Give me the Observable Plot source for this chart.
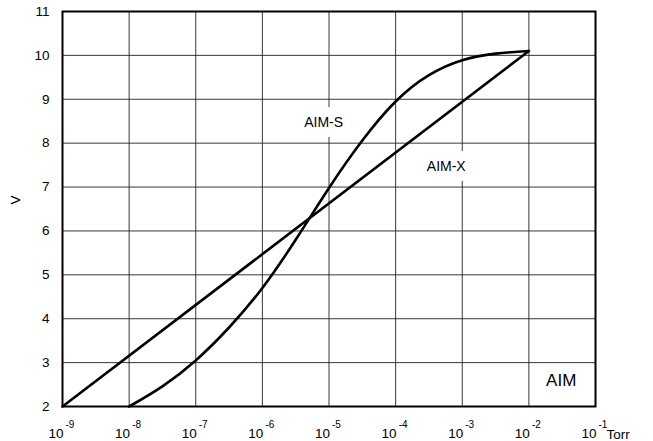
<!DOCTYPE html>
<html>
<head>
<meta charset="utf-8">
<script src="https://cdn.jsdelivr.net/npm/d3@7"></script>
<script src="https://cdn.jsdelivr.net/npm/@observablehq/plot@0.6"></script>
<style>
  html, body { margin: 0; padding: 0; background: #fff; overflow: hidden; }
</style>
</head>
<body>
<div id="chart"></div>
<script>
// Pressure decades (exponents of 10, Torr)
const xExponents = [-9, -8, -7, -6, -5, -4, -3, -2, -1];
const yTicks = [2, 3, 4, 5, 6, 7, 8, 9, 10, 11];

// AIM-S curve: log10(pressure) and output voltage
const aimSLogP = [-8, -7.5, -7, -6.5, -6, -5.5, -5, -4.5, -4, -3.5, -3, -2.5, -2];
const aimSVolt = [2.0, 2.46, 3.05, 3.8, 4.7, 5.8, 6.98, 8.06, 8.95, 9.55, 9.89, 10.04, 10.1];

// AIM-X line
const aimXLogP = [-9, -2];
const aimXVolt = [2.0, 10.1];

const aimS = aimSLogP.map((e, i) => ({p: Math.pow(10, e), v: aimSVolt[i]}));
const aimX = aimXLogP.map((e, i) => ({p: Math.pow(10, e), v: aimXVolt[i]}));
const xTicks = xExponents.map(e => Math.pow(10, e));

const font = "'Liberation Sans', Arial, Helvetica, sans-serif";

const chart = Plot.plot({
  width: 653,
  height: 441,
  marginLeft: 62,
  marginRight: 58,
  marginTop: 11,
  marginBottom: 35,
  style: {fontFamily: font, fontSize: "13.5px", background: "#fff", color: "#000"},
  x: {type: "log", domain: [1e-9, 1e-1], axis: null},
  y: {domain: [2, 11], axis: null},
  marks: [
    Plot.gridX(xTicks, {stroke: "#222", strokeOpacity: 0.9, strokeWidth: 1}),
    Plot.gridY(yTicks, {stroke: "#222", strokeOpacity: 0.9, strokeWidth: 1}),
    Plot.axisY(yTicks, {tickSize: 0, tickPadding: 13, fontSize: 13.5, label: null, tickFormat: d => String(d)}),
    // x tick labels: "10" with raised exponent
    Plot.text(xTicks, {x: d => d, frameAnchor: "bottom", text: () => "10", textAnchor: "end", lineAnchor: "middle", dx: 1, dy: 27, fontSize: 13.5}),
    Plot.text(xTicks, {x: d => d, frameAnchor: "bottom", text: (d, i) => String(xExponents[i]), textAnchor: "start", lineAnchor: "middle", dx: 3, dy: 18, fontSize: 10}),
    Plot.text(["Torr"], {x: 1e-1, frameAnchor: "bottom", text: d => d, textAnchor: "start", lineAnchor: "middle", dx: 11, dy: 28, fontSize: 13.5}),
    Plot.text(["V"], {frameAnchor: "left", y: 6.6, text: d => d, rotate: -90, dx: -47, fontSize: 13.5}),
    Plot.line(aimX, {x: "p", y: "v", stroke: "#000", strokeWidth: 2.6}),
    Plot.line(aimS, {x: "p", y: "v", stroke: "#000", strokeWidth: 2.6, curve: "natural"}),
    Plot.text(["AIM-S"], {x: Math.pow(10, -5.08), y: 8.48, text: d => d, fontSize: 14, stroke: "#fff", strokeWidth: 20, fill: "#000", lineAnchor: "middle"}),
    Plot.text(["AIM-X"], {x: Math.pow(10, -3.24), y: 7.47, text: d => d, fontSize: 14, stroke: "#fff", strokeWidth: 20, fill: "#000", lineAnchor: "middle"}),
    Plot.text(["AIM"], {x: Math.pow(10, -1.515), y: 2.59, text: d => d, fontSize: 17, fill: "#000", lineAnchor: "middle"}),
    Plot.frame({stroke: "#000", strokeWidth: 2})
  ]
});

document.getElementById("chart").appendChild(chart);
</script>
</body>
</html>
